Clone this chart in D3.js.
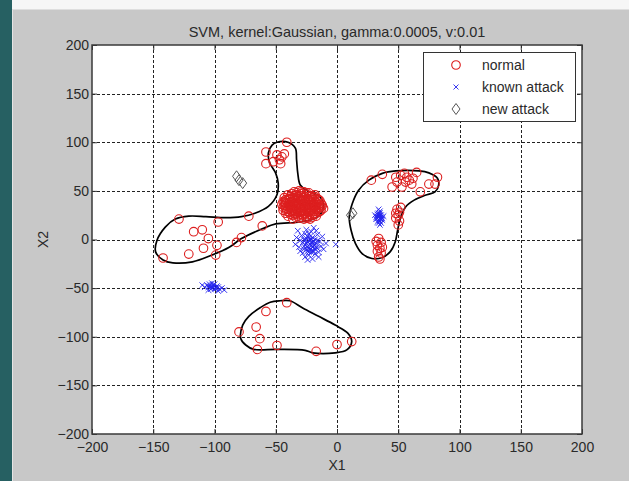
<!DOCTYPE html>
<html>
<head>
<meta charset="utf-8">
<script src="https://cdn.jsdelivr.net/npm/d3@7"></script>
<style>
  html, body { margin: 0; padding: 0; background: #c8c8c8; }
  svg { display: block; font-family: "Liberation Sans", Arial, sans-serif; }
</style>
</head>
<body>
<svg id="chart" width="629" height="481"></svg>
<script>
// ---- data ----
const title = "SVM, kernel:Gaussian, gamma:0.0005, v:0.01";
const xTicks = [-200, -150, -100, -50, 0, 50, 100, 150, 200];
const yTicks = [-200, -150, -100, -50, 0, 50, 100, 150, 200];
const legendLabels = ["normal", "known attack", "new attack"];

// normal samples: left arm, upper knot, dense core, right region, bottom region
const normalLeft = [
  [-129, 21], [-142, -19], [-117, 8], [-110, 10], [-105, 1], [-98, -6], [-109, -9],
  [-121, -15], [-99, -16], [-97, 18], [-72, 24], [-61, 14], [-82, -3], [-78, 2], [-24, 22]
];
const normalTop = [
  [-58, 90], [-41, 100], [-52, 80], [-58, 78], [-45, 85], [-49, 87], [-46, 78], [-47, 82], [-43, 88]
];
const normalCore = [
  [-35, 49], [-31, 50], [-27, 49], [-23, 48],
  [-40, 46], [-37, 47], [-33, 46], [-29, 47], [-25, 46], [-21, 45], [-18, 46],
  [-43, 43], [-39, 42], [-36, 43], [-32, 44], [-28, 43], [-24, 42], [-20, 43], [-16, 42],
  [-44, 39], [-41, 40], [-37, 39], [-34, 40], [-30, 40], [-26, 39], [-22, 40], [-18, 39], [-14, 40],
  [-45, 36], [-42, 37], [-38, 36], [-35, 37], [-31, 36], [-27, 37], [-23, 36], [-19, 37], [-15, 36], [-12, 35],
  [-44, 33], [-41, 34], [-38, 33], [-34, 34], [-30, 33], [-26, 34], [-22, 33], [-18, 34], [-14, 33], [-11, 32],
  [-44, 30], [-40, 31], [-36, 30], [-33, 31], [-29, 30], [-25, 31], [-21, 30], [-17, 31], [-13, 30],
  [-42, 27], [-39, 28], [-35, 27], [-31, 28], [-27, 27], [-23, 28], [-19, 27], [-15, 28],
  [-40, 24], [-36, 25], [-32, 24], [-28, 25], [-24, 24], [-20, 25], [-17, 24],
  [-36, 21], [-31, 22], [-27, 21], [-22, 21],
  [-33, 48], [-29, 49], [-25, 48],
  [-38, 44], [-34, 45], [-30, 45], [-26, 44], [-22, 44], [-18, 44],
  [-42, 41], [-38, 41], [-35, 42], [-31, 42], [-27, 41], [-23, 41], [-19, 41], [-15, 41],
  [-43, 38], [-39, 38], [-36, 38], [-32, 38], [-29, 39], [-25, 38], [-21, 38], [-17, 38], [-13, 37],
  [-43, 35], [-39, 35], [-36, 35], [-33, 35], [-29, 35], [-25, 35], [-21, 35], [-17, 35], [-13, 34],
  [-42, 32], [-38, 32], [-35, 32], [-31, 32], [-27, 32], [-23, 32], [-19, 32], [-15, 32],
  [-41, 29], [-37, 29], [-34, 29], [-30, 29], [-26, 29], [-22, 29], [-18, 29], [-14, 29],
  [-38, 26], [-34, 26], [-30, 26], [-26, 26], [-22, 26], [-18, 26],
  [-34, 23], [-29, 23], [-25, 22], [-20, 23]
];
const normalRight = [
  [28, 61], [37, 67], [52, 66], [57, 64], [56, 59], [65, 69], [61, 57], [53, 54], [68, 49], [75, 57],
  [82, 64], [80, 57], [45, 54], [49, 59], [59, 61], [55, 68], [62, 63], [48, 64],
  [49, 31], [51, 28], [50, 25], [48, 22], [51, 19], [50, 15], [52, 33], [48, 27],
  [34, 1], [36, -3], [33, -6], [35, -9], [33, -12], [36, -14], [34, -18], [35, -20], [32, -2], [37, -8]
];
const normalBottom = [
  [-41, -65], [-58, -74], [-66, -90], [-80, -95], [-63, -102], [-65, -113], [-49, -109],
  [-17, -115], [0, -108], [12, -105]
];

// known attack samples
const knownCentre = [
  [-24, -2], [-22, -5], [-20, -3], [-26, -6], [-23, -9], [-19, -7], [-21, 0], [-25, 1], [-28, -3],
  [-17, -4], [-22, 3], [-18, 0], [-27, -10], [-24, -12], [-20, -11], [-16, -9], [-30, -1], [-29, 4],
  [-26, 6], [-21, 8], [-16, 5], [-14, -2], [-13, -7], [-31, -8], [-28, -14], [-23, -16], [-18, -15],
  [-15, -13], [-33, 2], [-25, 10], [-19, 12], [-12, 3], [-11, -10], [-26, -18], [-20, -20], [-34, -5],
  [-9, -4], [-30, -12], [-17, 9], [-23, 6], [-27, 0], [-21, -13], [-15, -18], [-1, -5], [-32, 9], [-24, -21],
  [-25, -4], [-23, -1], [-21, -6], [-19, -2], [-24, -7], [-22, -10], [-20, -8], [-18, -5], [-26, -1],
  [-24, 3], [-20, 2], [-17, -8], [-23, -13], [-19, -12], [-27, -7], [-21, -3], [-25, -10], [-18, -10],
  [-22, 0], [-16, -1]
];
const knownRight = [
  [33, 24], [35, 22], [34, 27], [36, 25], [32, 21], [37, 20], [35, 29], [33, 18], [36, 17], [31, 25],
  [34, 20], [38, 24], [35, 15], [34, 31], [34, 23], [35, 25], [33, 22], [36, 21], [34, 25], [35, 19],
  [33, 26], [36, 23], [32, 23], [37, 22], [35, 27], [34, 17]
];
const knownLeft = [
  [-104, -48], [-101, -49], [-99, -50], [-106, -47], [-103, -51], [-98, -48], [-108, -49], [-100, -46],
  [-96, -51], [-105, -52], [-102, -45], [-94, -50], [-110, -47], [-97, -53], [-92, -52],
  [-103, -49], [-101, -47], [-99, -49], [-102, -50], [-105, -49], [-100, -51], [-97, -49], [-104, -46]
];

// new attack samples
const newAttack = [[-82, 65], [-80, 61], [-77, 58], [11, 25], [13, 27]];

// decision boundary contours
const boundaryLeft = [
  [-53, 97], [-49, 100], [-40, 100], [-34, 94], [-33, 82], [-32, 68], [-30, 56], [-24, 50],
  [-14, 44], [-11, 34], [-16, 23], [-30, 18], [-50, 16], [-61, 11], [-78, 1], [-88, -8],
  [-102, -16], [-118, -23], [-134, -24], [-142, -21], [-148, -13], [-147, -1], [-140, 13],
  [-132, 21], [-121, 24], [-107, 23.5], [-91, 22.5], [-78, 23.5], [-67, 27], [-56, 34],
  [-49, 46], [-48, 58], [-50, 68], [-55, 79], [-56, 89]
];
const boundaryRight = [
  [48, 70.5], [67, 70.5], [75, 68.5], [82, 63], [83, 56], [80, 49], [72, 45.5], [63, 40.5],
  [56, 33.5], [52, 23], [49.5, 9.5], [47.5, -2.5], [43.5, -12.5], [37, -18.5], [28.5, -19.5],
  [20.5, -14.5], [15, -4], [11.5, 9.5], [10, 23], [12.5, 37], [17.5, 50.5], [26, 61], [37, 68]
];
const boundaryBottom = [
  [-46.5, -63], [-38.5, -63], [-28, -70.5], [-15, -79], [-1.5, -88], [9, -96.5], [12, -105],
  [8, -113.5], [-1.5, -116.5], [-20, -116.5], [-26, -114], [-49, -113], [-68, -113],
  [-74.5, -108.5], [-78.5, -102], [-77, -88], [-72, -79], [-62.5, -70], [-54.5, -64.5]
];

const normalAll = normalLeft.concat(normalTop, normalCore, normalRight, normalBottom);
const knownAll = knownCentre.concat(knownRight, knownLeft);

// ---- layout ----
const svg = d3.select("#chart");
const W = 629, H = 481;
const plot = { left: 92, right: 582, top: 45, bottom: 434 };

const x = d3.scaleLinear().domain([-200, 200]).range([plot.left, plot.right]);
const y = d3.scaleLinear().domain([-200, 200]).range([plot.bottom, plot.top]);

// figure frame
svg.append("rect").attr("x", 0).attr("y", 0).attr("width", W).attr("height", H).attr("fill", "#c8c8c8");
svg.append("rect").attr("x", 0).attr("y", 0).attr("width", W).attr("height", 9).attr("fill", "#f6f6f6");
svg.append("rect").attr("x", 0).attr("y", 0).attr("width", 12).attr("height", H).attr("fill", "#266062");
svg.append("line").attr("x1", 12.5).attr("x2", 12.5).attr("y1", 9).attr("y2", H)
  .attr("stroke", "#e4e4e4").attr("stroke-width", 1);
svg.append("line").attr("x1", 12).attr("x2", W).attr("y1", 9.5).attr("y2", 9.5)
  .attr("stroke", "#dedede").attr("stroke-width", 1);

// axes background
svg.append("rect")
  .attr("x", plot.left).attr("y", plot.top)
  .attr("width", plot.right - plot.left).attr("height", plot.bottom - plot.top)
  .attr("fill", "#ffffff");

// dotted grid
const grid = svg.append("g").attr("stroke", "#222").attr("stroke-width", 1)
  .attr("stroke-dasharray", "3,2");
grid.selectAll("line.gx").data(xTicks.slice(1, -1)).join("line")
  .attr("class", "gx")
  .attr("x1", d => Math.round(x(d)) + 0.5).attr("x2", d => Math.round(x(d)) + 0.5)
  .attr("y1", plot.top).attr("y2", plot.bottom);
grid.selectAll("line.gy").data(yTicks.slice(1, -1)).join("line")
  .attr("class", "gy")
  .attr("y1", d => Math.round(y(d)) + 0.5).attr("y2", d => Math.round(y(d)) + 0.5)
  .attr("x1", plot.left).attr("x2", plot.right);

// decision boundaries
const contour = d3.line()
  .x(d => x(d[0])).y(d => y(d[1]))
  .curve(d3.curveCatmullRomClosed.alpha(0.5));
svg.append("g").selectAll("path").data([boundaryLeft, boundaryRight, boundaryBottom]).join("path")
  .attr("d", contour)
  .attr("fill", "none").attr("stroke", "#000").attr("stroke-width", 1.7);

// markers
const crossPath = s => `M${-s},${-s}L${s},${s}M${-s},${s}L${s},${-s}`;
const diamondPath = (w, h) => `M0,${-h}L${w},0L0,${h}L${-w},0Z`;

svg.append("g").selectAll("circle").data(normalAll).join("circle")
  .attr("cx", d => x(d[0])).attr("cy", d => y(d[1])).attr("r", 4.3)
  .attr("fill", "none").attr("stroke", "#dd1f1f").attr("stroke-width", 1.1);

svg.append("g").selectAll("path").data(knownAll).join("path")
  .attr("transform", d => `translate(${x(d[0])},${y(d[1])})`)
  .attr("d", crossPath(2.8))
  .attr("fill", "none").attr("stroke", "#2222ee").attr("stroke-width", 0.9);

svg.append("g").selectAll("path").data(newAttack).join("path")
  .attr("transform", d => `translate(${x(d[0])},${y(d[1])})`)
  .attr("d", diamondPath(4, 5.5))
  .attr("fill", "none").attr("stroke", "#555").attr("stroke-width", 1);

// axes with inward ticks
const fontSize = 14;
function styleAxis(g) {
  g.select(".domain").remove();
  g.selectAll(".tick line").attr("stroke", "#333").attr("stroke-width", 1);
  g.selectAll("text").attr("fill", "#2a2a2a").style("font-size", fontSize + "px")
    .style("font-family", '"Liberation Sans", Arial, sans-serif');
}
svg.append("g").attr("transform", `translate(0,${plot.bottom})`)
  .call(d3.axisBottom(x).tickValues(xTicks).tickSizeInner(-5).tickSizeOuter(0).tickPadding(8))
  .call(styleAxis);
svg.append("g").attr("transform", `translate(0,${plot.top})`)
  .call(d3.axisTop(x).tickValues(xTicks).tickSizeInner(-5).tickSizeOuter(0).tickFormat(""))
  .call(styleAxis);
svg.append("g").attr("transform", `translate(${plot.left},0)`)
  .call(d3.axisLeft(y).tickValues(yTicks).tickSizeInner(-5).tickSizeOuter(0).tickPadding(3))
  .call(styleAxis);
svg.append("g").attr("transform", `translate(${plot.right},0)`)
  .call(d3.axisRight(y).tickValues(yTicks).tickSizeInner(-5).tickSizeOuter(0).tickFormat(""))
  .call(styleAxis);

// axes box
svg.append("rect")
  .attr("x", plot.left).attr("y", plot.top)
  .attr("width", plot.right - plot.left).attr("height", plot.bottom - plot.top)
  .attr("fill", "none").attr("stroke", "#3a3a3a").attr("stroke-width", 1.5);

// titles
svg.append("text").attr("x", (plot.left + plot.right) / 2).attr("y", 37)
  .attr("text-anchor", "middle").attr("fill", "#2a2a2a").style("font-size", "14.5px")
  .text(title);
svg.append("text").attr("x", (plot.left + plot.right) / 2).attr("y", 470)
  .attr("text-anchor", "middle").attr("fill", "#2a2a2a").style("font-size", fontSize + "px")
  .text("X1");
svg.append("text").attr("transform", `translate(48,${(plot.top + plot.bottom) / 2}) rotate(-90)`)
  .attr("text-anchor", "middle").attr("fill", "#2a2a2a").style("font-size", fontSize + "px")
  .text("X2");

// legend
const legend = svg.append("g");
legend.append("rect").attr("x", 423.5).attr("y", 52.5).attr("width", 152).attr("height", 69)
  .attr("fill", "#fff").attr("stroke", "#333").attr("stroke-width", 1);
const rows = legend.selectAll("g.row").data(legendLabels).join("g")
  .attr("class", "row")
  .attr("transform", (d, i) => `translate(456,${65 + i * 22})`);
rows.each(function (d, i) {
  const g = d3.select(this);
  if (i === 0) {
    g.append("circle").attr("r", 4.3).attr("fill", "none").attr("stroke", "#dd1f1f").attr("stroke-width", 1.1);
  } else if (i === 1) {
    g.append("path").attr("d", crossPath(2.5)).attr("fill", "none").attr("stroke", "#2222ee").attr("stroke-width", 0.9);
  } else {
    g.append("path").attr("d", diamondPath(4, 5.5)).attr("fill", "none").attr("stroke", "#555").attr("stroke-width", 1);
  }
  g.append("text").attr("x", 26).attr("dy", "0.35em").attr("fill", "#2a2a2a")
    .style("font-size", fontSize + "px").text(d);
});
</script>
</body>
</html>
